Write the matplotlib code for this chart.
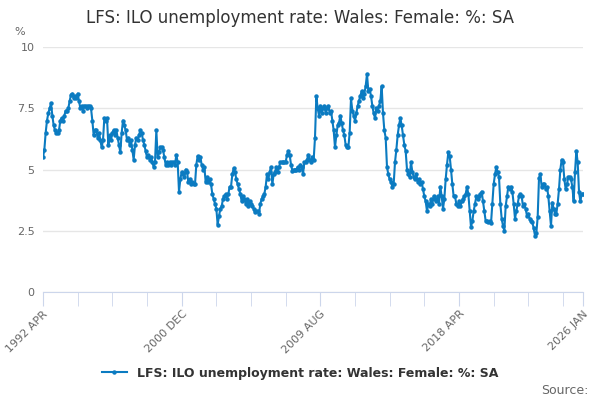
import matplotlib
matplotlib.use("Agg")
import matplotlib.pyplot as plt

values = [
 5.5,5.8,6.5,7.0,7.3,7.5,7.7,7.2,6.8,
 6.6,6.5,6.5,6.6,7.0,7.1,7.0,7.2,7.4,7.4,7.5,7.8,
 8.05,8.1,7.9,8.0,7.9,8.1,7.8,7.5,7.6,7.4,7.6,7.6,
 7.5,7.6,7.6,7.5,7.0,6.4,6.6,6.6,6.3,6.5,6.2,5.9,
 6.2,7.1,7.0,7.1,6.0,6.4,6.2,6.5,6.6,6.4,6.6,6.3,
 6.0,5.7,6.5,7.0,6.8,6.6,6.2,6.3,6.0,6.2,5.8,5.4,
 6.0,6.3,6.2,6.4,6.6,6.5,6.2,6.0,5.75,5.5,5.6,5.4,
 5.5,5.3,5.1,5.3,6.6,5.5,5.7,5.9,5.9,5.8,5.5,5.2,
 5.3,5.2,5.3,5.2,5.3,5.3,5.2,5.6,5.3,4.1,4.6,4.9,
 4.8,4.7,5.0,4.9,4.5,4.6,4.4,4.5,4.4,4.4,5.2,5.55,
 5.4,5.5,5.2,5.0,5.1,4.5,4.7,4.5,4.6,4.4,4.0,3.8,
 3.6,3.4,2.75,3.1,3.4,3.5,3.8,3.9,4.0,3.8,4.0,4.3,
 4.3,4.8,5.05,4.9,4.6,4.4,4.2,4.0,3.7,3.9,3.8,3.6,
 3.8,3.5,3.7,3.6,3.5,3.4,3.25,3.3,3.3,3.2,3.6,3.8,
 3.9,4.0,4.3,4.8,4.6,4.9,5.1,4.4,4.8,4.9,5.1,4.9,
 5.1,5.3,5.3,5.3,5.3,5.3,5.6,5.75,5.6,5.2,4.95,5.0,
 5.0,5.0,5.1,5.0,5.2,5.1,4.8,5.3,5.3,5.4,5.6,5.4,
 5.3,5.5,5.4,6.3,8.0,7.5,7.2,7.6,7.3,7.5,7.6,7.3,
 7.5,7.6,7.3,7.4,7.0,6.6,5.9,6.4,6.8,6.9,7.2,6.9,
 6.6,6.4,6.0,5.9,5.9,6.5,7.9,7.4,7.2,7.0,7.3,7.6,
 7.8,8.0,8.2,7.9,8.1,8.4,8.9,8.2,8.3,8.0,7.6,7.3,
 7.1,7.5,7.4,7.6,7.8,8.4,7.3,6.6,6.3,5.1,4.8,4.6,
 4.5,4.3,4.4,5.3,5.8,6.4,6.8,7.1,6.8,6.4,6.0,5.75,
 5.0,4.8,4.7,5.3,4.9,4.7,4.6,4.8,4.5,4.6,4.4,4.5,
 4.2,3.9,3.7,3.3,3.6,3.5,3.8,3.6,3.9,3.8,3.7,3.9,
 3.6,4.3,3.9,3.4,3.8,4.6,5.2,5.7,5.55,5.0,4.4,3.9,
 3.9,3.6,3.5,3.7,3.5,3.7,3.8,3.9,4.0,4.3,4.0,3.3,
 2.65,2.9,3.3,3.6,3.9,3.8,3.9,4.0,4.1,3.7,3.3,2.9,
 2.9,2.85,2.9,2.8,3.6,4.4,4.8,5.1,4.9,4.7,3.6,3.0,
 2.7,2.5,3.5,3.9,4.3,4.2,4.3,4.1,3.6,3.0,3.3,3.6,
 3.9,4.0,3.9,3.5,3.6,3.4,3.1,3.2,3.0,2.9,2.85,2.6,
 2.3,2.4,3.05,4.65,4.8,4.3,4.4,4.4,4.2,4.3,3.9,3.3,
 2.7,3.65,3.4,3.2,3.2,3.6,4.2,5.0,5.4,5.3,4.6,4.2,
 4.4,4.7,4.7,4.6,4.3,3.7,4.9,5.75,5.3,4.1,3.7,4.0,
 4.0,
]
tick_labels = ["1992 APR", "2000 DEC", "2009 AUG", "2018 APR", "2026 JAN"]
title = "LFS: ILO unemployment rate: Wales: Female: %: SA"

n = len(values)
x = list(range(n))
color = "#0b7bc1"

fig = plt.figure(figsize=(6, 4), dpi=100)
ax = fig.add_axes([43/600, 1-292/400, 540/600, 245/400])
ax.plot(x, values, color=color, lw=1.5, marker="o", ms=2.2, label=title)
ax.set_xlim(0, n-1)
ax.set_ylim(0, 10)
ax.set_yticks([0, 2.5, 5, 7.5, 10])
ax.set_yticklabels(["0", "2.5", "5", "7.5", "10"], color="#666666", fontsize=8)
ax.grid(axis="y", color="#e6e6e6", lw=1)
ax.set_axisbelow(True)
for s in ["top", "right", "left"]:
    ax.spines[s].set_visible(False)
ax.spines["bottom"].set_color("#ccd6eb")
ax.tick_params(axis="y", length=0, pad=6)

major = [0, 104, 208, 312, n-1]
minor = [t for t in range(0, n, 26) if t not in major]
ax.set_xticks(major)
ax.set_xticklabels(tick_labels, rotation=45, ha="right", rotation_mode="anchor",
                   color="#666666", fontsize=8)
ax.set_xticks(minor, minor=True)
ax.tick_params(axis="x", which="both", length=10, color="#ccd6eb", pad=2)

fig.text(0.5, 1-18/400, title, ha="center", va="center", fontsize=12, color="#333333")
fig.text(14/600, 1-32/400, "%", ha="left", va="center", fontsize=8, color="#666666")
fig.legend(loc="center", bbox_to_anchor=(0.5, 1-373/400), frameon=False,
           fontsize=9, handlelength=2, prop={"weight": "bold", "size": 9},
           labelcolor="#333333")
fig.text(589/600, 1-390/400, "Source:", ha="right", va="center", fontsize=9, color="#666666")
fig.savefig("out.png")
